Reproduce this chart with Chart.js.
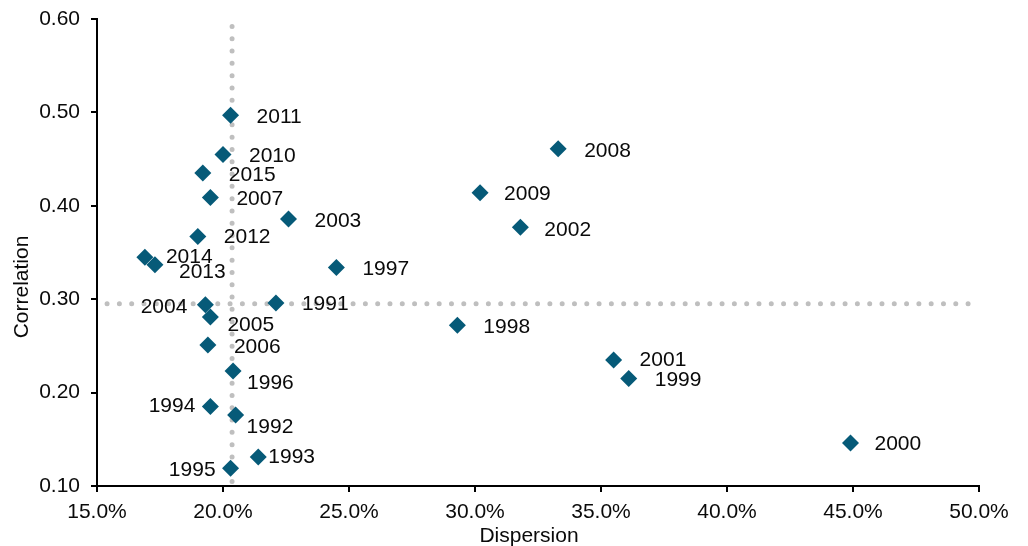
<!DOCTYPE html>
<html>
<head>
<meta charset="utf-8">
<script src="https://cdn.jsdelivr.net/npm/chart.js@4/dist/chart.umd.min.js"></script>
<style>
  html, body { margin: 0; padding: 0; background: #fff; }
  #wrap { width: 1028px; height: 546px; position: relative; }
</style>
</head>
<body>
<div id="wrap"><canvas id="chart"></canvas></div>
<script>
"use strict";

// year labels, dispersion (%) and correlation
const YEARS = [1991, 1992, 1993, 1994, 1995, 1996, 1997, 1998, 1999, 2000,
  2001, 2002, 2003, 2004, 2005, 2006, 2007, 2008, 2009, 2010,
  2011, 2012, 2013, 2014, 2015];
const DISPERSION = [22.1, 20.5, 21.4, 19.5, 20.3, 20.4, 24.5, 29.3, 36.1, 44.9,
  35.5, 31.8, 22.6, 19.3, 19.5, 19.4, 19.5, 33.3, 30.2, 20.0,
  20.3, 19.0, 17.3, 16.9, 19.2];
const CORRELATION = [0.296, 0.176, 0.131, 0.185, 0.119, 0.223, 0.334, 0.272, 0.215, 0.146,
  0.235, 0.377, 0.386, 0.294, 0.281, 0.251, 0.409, 0.461, 0.414, 0.455,
  0.497, 0.367, 0.337, 0.345, 0.435];

// average reference lines
const AVG_DISPERSION = 20.36;
const AVG_CORRELATION = 0.295;

const X_TICKS = [15, 20, 25, 30, 35, 40, 45, 50];
const Y_TICKS = [0.1, 0.2, 0.3, 0.4, 0.5, 0.6];

// label placement (text offset from the marker, in px)
const LABEL_POS = {
  1991: [26, 1, "left"], 1992: [11, 12, "left"], 1993: [10, 0, "left"],
  1994: [-15, 0, "right"], 1995: [-15, 2, "right"], 1996: [14, 12, "left"],
  2004: [-18, 2, "right"], 2005: [17, 8, "left"], 2013: [24, 8, "left"],
  2014: [21, 0, "left"], 2012: [26, 1, "left"], 2009: [24, 1, "left"],
  2002: [24, 3, "left"], 2000: [24, 1, "left"], 2001: [26, 0, "left"],
};

const FONT = "'Liberation Sans', Arial, sans-serif";
const MARKER = "#065a78";
const DOTS = "#bfbfbf";
const INK = "#0a0a0a";

const points = YEARS.map((y, i) => ({ x: DISPERSION[i], y: CORRELATION[i], year: y }));

const yearLabels = {
  id: "yearLabels",
  afterDatasetsDraw(chart) {
    const { ctx } = chart;
    const meta = chart.getDatasetMeta(0);
    ctx.save();
    ctx.font = `21px ${FONT}`;
    ctx.fillStyle = INK;
    ctx.textBaseline = "middle";
    meta.data.forEach((el, i) => {
      const yr = YEARS[i];
      const [dx, dy, align] = LABEL_POS[yr] || [26, 2, "left"];
      ctx.textAlign = align;
      ctx.fillText(String(yr), el.x + dx, el.y + dy);
    });
    ctx.restore();
  },
};

const axisTitles = {
  id: "axisTitles",
  afterDraw(chart) {
    const { ctx } = chart;
    ctx.save();
    ctx.font = `21px ${FONT}`;
    ctx.fillStyle = INK;
    ctx.textAlign = "center";
    ctx.textBaseline = "middle";
    ctx.fillText("Dispersion", 529, 536);
    ctx.translate(22, 287);
    ctx.rotate(-Math.PI / 2);
    ctx.fillText("Correlation", 0, 0);
    ctx.restore();
  },
};

const AXIS_GRID = {
  display: true, drawOnChartArea: false, drawTicks: true,
  tickLength: 6, color: "#000", lineWidth: 2,
};

new Chart(document.getElementById("chart"), {
  type: "scatter",
  data: {
    datasets: [
      {
        label: "years", data: points, order: 1,
        pointStyle: "rectRot", pointRadius: 8.5, pointHoverRadius: 8.5,
        backgroundColor: MARKER, borderColor: MARKER, borderWidth: 0,
      },
      {
        label: "avg dispersion", order: 2, showLine: true, pointRadius: 0,
        data: [{ x: AVG_DISPERSION, y: 0.592 }, { x: AVG_DISPERSION, y: 0.1 }],
        borderColor: DOTS, borderWidth: 5, borderDash: [0, 12.3], borderCapStyle: "round",
      },
      {
        label: "avg correlation", order: 2, showLine: true, pointRadius: 0,
        data: [{ x: 15.4, y: AVG_CORRELATION }, { x: 50, y: AVG_CORRELATION }],
        borderColor: DOTS, borderWidth: 5, borderDash: [0, 12.3], borderCapStyle: "round",
      },
    ],
  },
  options: {
    responsive: true,
    maintainAspectRatio: false,
    animation: false,
    events: [],
    layout: { padding: { left: 0, top: 19, right: 49, bottom: 0 } },
    plugins: { legend: { display: false }, tooltip: { enabled: false } },
    scales: {
      x: {
        type: "linear", min: 15, max: 50,
        afterBuildTicks: (s) => { s.ticks = X_TICKS.map((v) => ({ value: v })); },
        afterFit: (s) => { s.height = 60; s.paddingLeft = 0; s.paddingRight = 0; },
        grid: AXIS_GRID,
        border: { display: true, color: "#000", width: 2 },
        ticks: {
          color: INK, padding: 8, maxRotation: 0,
          font: { family: FONT, size: 21 },
          callback: (v) => v.toFixed(1) + "%",
        },
      },
      y: {
        type: "linear", min: 0.1, max: 0.6,
        afterBuildTicks: (s) => { s.ticks = Y_TICKS.map((v) => ({ value: v })); },
        afterFit: (s) => { s.width = 97; s.paddingTop = 0; s.paddingBottom = 0; },
        grid: AXIS_GRID,
        border: { display: true, color: "#000", width: 2 },
        ticks: {
          color: INK, padding: 11,
          font: { family: FONT, size: 21 },
          callback: (v) => v.toFixed(2),
        },
      },
    },
  },
  plugins: [yearLabels, axisTitles],
});
</script>
</body>
</html>
